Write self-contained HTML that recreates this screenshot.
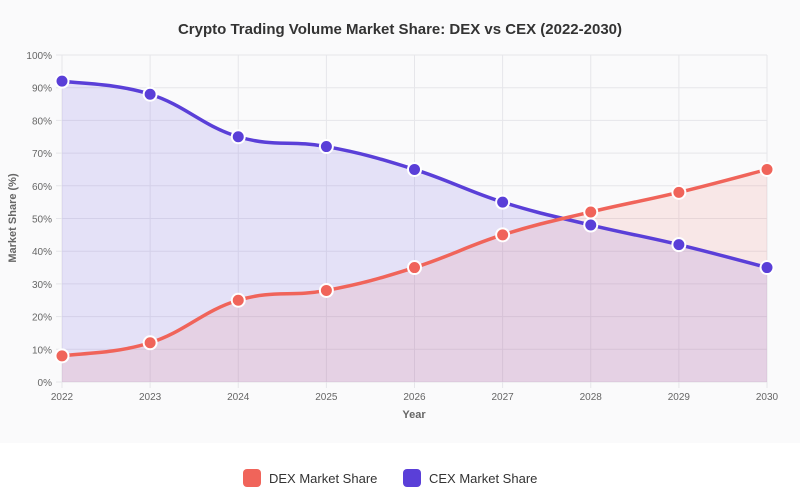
<!DOCTYPE html>
<html><head><meta charset="utf-8"><style>
body{margin:0;background:#fff;width:800px;height:493px;overflow:hidden;font-family:"Liberation Sans",sans-serif}
</style></head><body>
<svg id="s" width="800" height="493" xmlns="http://www.w3.org/2000/svg" style="display:block">
<rect x="0" y="0" width="800" height="443" fill="#fafafb"/>
<text x="400" y="34" text-anchor="middle" font-size="15" font-weight="bold" fill="#333">Crypto Trading Volume Market Share: DEX vs CEX (2022-2030)</text>
<g id="grid"></g>
<g id="series"></g>
<text x="414" y="418" text-anchor="middle" font-size="11" font-weight="bold" fill="#666">Year</text>
<text transform="translate(16,218) rotate(-90)" text-anchor="middle" font-size="11" font-weight="bold" fill="#666">Market Share (%)</text>
<rect x="243" y="469" width="18" height="18" rx="4" fill="#f0645a"/>
<text x="269" y="483" font-size="13" fill="#333">DEX Market Share</text>
<rect x="403" y="469" width="18" height="18" rx="4" fill="#5a3fd8"/>
<text x="429" y="483" font-size="13" fill="#333">CEX Market Share</text>
</svg>
<script>
var NS="http://www.w3.org/2000/svg";
function el(p,t,a,txt){var e=document.createElementNS(NS,t);for(var k in a)e.setAttribute(k,a[k]);if(txt!=null)e.textContent=txt;p.appendChild(e);return e;}
var g=document.getElementById('grid'),sg=document.getElementById('series');
var X0=62,DX=88.125,Y0=382,K=3.27;
for(var v=0;v<=100;v+=10){var y=Y0-K*v;el(g,'line',{x1:56,x2:767,y1:y,y2:y,stroke:'#e6e6ea','stroke-width':1});
el(g,'text',{x:52,y:y+4,'text-anchor':'end','font-size':10,fill:'#666'},v+'%');}
for(var i=0;i<9;i++){var x=X0+DX*i;el(g,'line',{x1:x,x2:x,y1:55,y2:388,stroke:'#e6e6ea','stroke-width':1});
el(g,'text',{x:x,y:400,'text-anchor':'middle','font-size':10,fill:'#666'},2022+i);}
function path(d){var p=d.map(function(v,i){return[X0+DX*i,Y0-K*v]});var t=0.4,s='M'+p[0][0]+','+p[0][1];
for(var i=0;i<p.length-1;i++){var a=p[i-1]||p[i],b=p[i],c=p[i+1],e=p[i+2]||c;
var c1=[b[0]+(c[0]-a[0])*t/2,b[1]+(c[1]-a[1])*t/2],c2=[c[0]-(e[0]-b[0])*t/2,c[1]-(e[1]-b[1])*t/2];
s+=' C'+c1+' '+c2+' '+c;}return{s:s,p:p};}
var sets=[[[92,88,75,72,65,55,48,42,35],'#5a3fd8','rgba(110,90,230,0.15)'],[[8,12,25,28,35,45,52,58,65],'#f0645a','rgba(240,100,90,0.12)']];
sets.forEach(function(S){var r=path(S[0]);el(sg,'path',{d:r.s+' L767,382 L62,382 Z',fill:S[2]});});
sets.forEach(function(S){var r=path(S[0]);el(sg,'path',{d:r.s,fill:'none',stroke:S[1],'stroke-width':3.5});
r.p.forEach(function(q){el(sg,'circle',{cx:q[0],cy:q[1],r:6.5,fill:S[1],stroke:'#fff','stroke-width':2});});});
</script>
</body></html>
